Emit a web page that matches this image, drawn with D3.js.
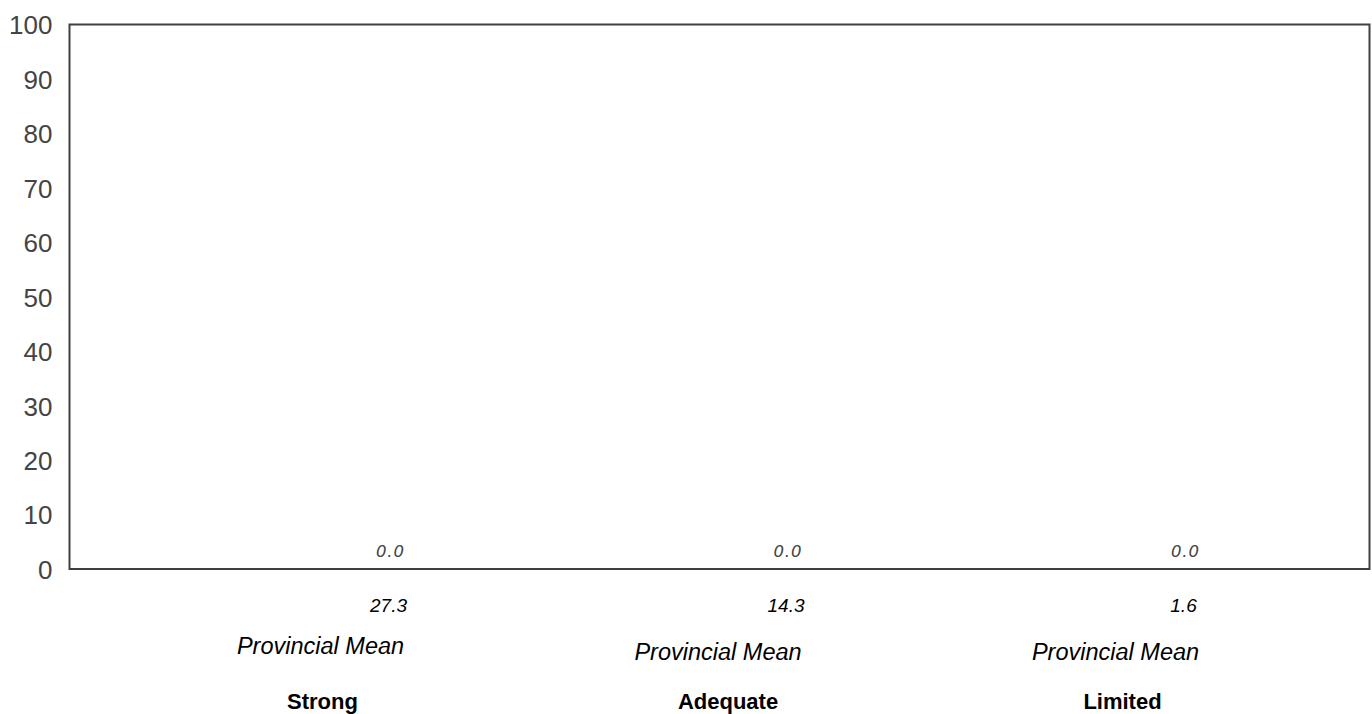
<!DOCTYPE html>
<html>
<head>
<meta charset="utf-8">
<script src="https://cdn.jsdelivr.net/npm/d3@7"></script>
<style>
  html, body { margin: 0; padding: 0; background: #fff; }
  svg { display: block; }
</style>
</head>
<body>
<svg id="chart" width="1372" height="714"></svg>
<script>
// ---- data ----
const categories = ["Strong", "Adequate", "Limited"];
const schoolValues = [0.0, 0.0, 0.0];
const provincialMeans = [27.3, 14.3, 1.6];
const meanLabel = "Provincial Mean";
const yTicks = [0, 10, 20, 30, 40, 50, 60, 70, 80, 90, 100];

// ---- layout ----
const W = 1372, H = 714;
const plot = { left: 69.5, right: 1369.5, top: 24.5, bottom: 569 };
const svg = d3.select("#chart");

const y = d3.scaleLinear().domain([0, 100]).range([plot.bottom, plot.top]);
const x = d3.scalePoint().domain(categories)
  .range([plot.left + 251, plot.right - 254]);

// frame
svg.append("rect")
  .attr("x", plot.left).attr("y", plot.top)
  .attr("width", plot.right - plot.left).attr("height", plot.bottom - plot.top)
  .attr("fill", "none").attr("stroke", "#404040").attr("stroke-width", 2);

// y axis labels
const yAxis = d3.axisLeft(y).tickValues(yTicks).tickSize(0).tickPadding(17)
  .tickFormat(d3.format("d"));
const gy = svg.append("g").attr("transform", `translate(${plot.left},0)`).call(yAxis);
gy.select(".domain").remove();
gy.selectAll("text")
  .attr("font-family", "Liberation Sans, Arial, sans-serif")
  .attr("font-size", 26).attr("fill", "#444").attr("dy", "0.36em");

// value labels (school values)
svg.append("g").selectAll("text").data(categories).join("text")
  .attr("x", d => x(d) + 70)
  .attr("y", (d, i) => y(schoolValues[i]) - 12)
  .attr("text-anchor", "middle")
  .attr("font-family", "DejaVu Sans, Verdana, sans-serif")
  .attr("font-style", "italic")
  .attr("font-size", 16.5)
  .attr("letter-spacing", 1)
  .attr("fill", "#444")
  .text((d, i) => d3.format(".1f")(schoolValues[i]));

// provincial mean values
svg.append("g").selectAll("text").data(categories).join("text")
  .attr("x", d => x(d) + 68)
  .attr("y", plot.bottom + 43)
  .attr("text-anchor", "middle")
  .attr("font-family", "Liberation Sans, Arial, sans-serif")
  .attr("font-style", "italic")
  .attr("font-size", 19)
  .attr("fill", "#000")
  .text((d, i) => d3.format(".1f")(provincialMeans[i]));

// "Provincial Mean" labels
const meanShift = [-6, 0, 0];
svg.append("g").selectAll("text").data(categories).join("text")
  .attr("x", d => x(d))
  .attr("y", (d, i) => plot.bottom + 91 + meanShift[i])
  .attr("text-anchor", "middle")
  .attr("font-family", "Liberation Sans, Arial, sans-serif")
  .attr("font-style", "italic")
  .attr("font-size", 23.5)
  .attr("fill", "#000")
  .text(meanLabel);

// category labels
svg.append("g").selectAll("text").data(categories).join("text")
  .attr("x", (d, i) => x(d) + [2, 10, 7][i])
  .attr("y", plot.bottom + 140)
  .attr("text-anchor", "middle")
  .attr("font-family", "Liberation Sans, Arial, sans-serif")
  .attr("font-weight", "bold")
  .attr("font-size", 22)
  .attr("fill", "#000")
  .text(d => d);
</script>
</body>
</html>
